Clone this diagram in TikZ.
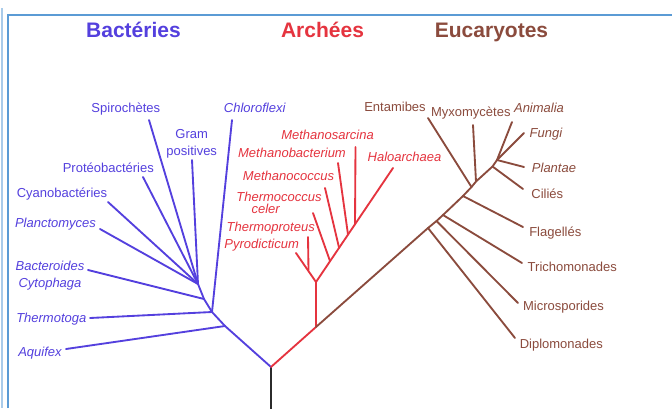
\documentclass[tikz,border=0pt]{standalone}
\usepackage{fontspec}
\setmainfont{Liberation Sans}
\usepackage{xcolor}
\usepackage{tikz}
\definecolor{TVBlue}{HTML}{5440DE}
\definecolor{TVRed}{HTML}{E5343F}
\definecolor{TVBrown}{HTML}{8B4B3D}
\definecolor{TVTrunk}{HTML}{2B2B2B}
\definecolor{TVFrame}{HTML}{5B9BD5}
\definecolor{TVFrameLight}{HTML}{A9CBEA}
\tikzset{
  branch/.style={line width=1.85pt,line cap=round,line join=round},
  leaf/.style={font=\fontsize{13}{17}\selectfont,inner sep=0pt,align=center},
  leafit/.style={leaf,font=\fontsize{13}{17}\selectfont\itshape},
  domainlbl/.style={font=\fontsize{21}{24}\selectfont\bfseries,inner sep=0pt}
}

\begin{document}
\begin{tikzpicture}[x=1pt,y=-1pt]
\path[use as bounding box] (0,0) rectangle (672,408);
\fill[white] (0,0) rectangle (672,408);
\draw[TVFrameLight,line width=2pt] (1.5,8) -- (1.5,408);
\draw[TVFrame,line width=2pt] (8,408) -- (8,15) -- (672,15);

\node[domainlbl,TVBlue,anchor=base] (tBact) at (133.5,37) {Bactéries};
\node[domainlbl,TVRed,anchor=base] (tArch) at (322.5,37) {Archées};
\node[domainlbl,TVBrown,anchor=base] (tEuca) at (491.5,37) {Eucaryotes};

\coordinate (root) at (271,367);
\coordinate (base) at (271,410);
\draw[TVTrunk,branch] (root) -- (base);

\coordinate (bA) at (225,326);
\coordinate (bT) at (212,312);
\coordinate (bB) at (204,299);
\coordinate (bC) at (198,284);
\coordinate (aquifexE) at (66,349);
\coordinate (thermotogaE) at (90,318);
\coordinate (bacteroidesE) at (88,270);
\coordinate (planctoE) at (100,229);
\coordinate (cyanoE) at (108,202);
\coordinate (proteoE) at (143,177);
\coordinate (spiroE) at (149,120);
\coordinate (gramE) at (192,160);
\coordinate (chloroE) at (232,120);
\draw[TVBlue,branch] (root) -- (bA) -- (bT) -- (bB) -- (bC);
\draw[TVBlue,branch] (bA) -- (aquifexE);
\draw[TVBlue,branch] (bT) -- (thermotogaE);
\draw[TVBlue,branch] (bB) -- (bacteroidesE);
\draw[TVBlue,branch] (bC) -- (planctoE);
\draw[TVBlue,branch] (bC) -- (cyanoE);
\draw[TVBlue,branch] (bC) -- (proteoE);
\draw[TVBlue,branch] (bC) -- (spiroE);
\draw[TVBlue,branch] (bC) -- (gramE);
\draw[TVBlue,branch] (bT) -- (chloroE);
\node[leafit,TVBlue,anchor=base] (aquifex) at (40,356) {Aquifex};
\node[leafit,TVBlue,anchor=base] (thermotoga) at (51.3,322.2) {Thermotoga};
\node[leafit,TVBlue] (bacteroides) at (50,275.8) {Bacteroides\\Cytophaga};
\node[leafit,TVBlue,anchor=base] (planctomyces) at (55.5,227.5) {Planctomyces};
\node[leaf,TVBlue,anchor=base] (cyano) at (62,197.2) {Cyanobactéries};
\node[leaf,TVBlue,anchor=base] (proteo) at (108.3,172.8) {Protéobactéries};
\node[leaf,TVBlue,anchor=base] (spiro) at (125.8,112.8) {Spirochètes};
\node[leaf,TVBlue] (gram) at (191.7,143.7) {Gram\\positives};
\node[leafit,TVBlue,anchor=base] (chloroflexi) at (254.7,112.5) {Chloroflexi};

\coordinate (aN) at (316,327);
\coordinate (aP) at (316,282);
\coordinate (aTp) at (308.5,270);
\coordinate (aTc) at (330,261);
\coordinate (aMc) at (339,247.5);
\coordinate (aMb) at (348,234.5);
\coordinate (aMs) at (355,224.5);
\coordinate (pyroE) at (296,253);
\coordinate (thermoprE) at (308,237);
\coordinate (thermocE) at (313,213);
\coordinate (methcocE) at (325,188);
\coordinate (methbacE) at (338,163);
\coordinate (methsarE) at (355.5,147);
\coordinate (haloE) at (393,168);
\draw[TVRed,branch] (root) -- (aN) -- (aP);
\draw[TVRed,branch] (aP) -- (pyroE);
\draw[TVRed,branch] (aTp) -- (thermoprE);
\draw[TVRed,branch] (aP) -- (haloE);
\draw[TVRed,branch] (aTc) -- (thermocE);
\draw[TVRed,branch] (aMc) -- (methcocE);
\draw[TVRed,branch] (aMb) -- (methbacE);
\draw[TVRed,branch] (aMs) -- (methsarE);
\node[leafit,TVRed,anchor=base] (methanosarcina) at (327.5,139.5) {Methanosarcina};
\node[leafit,TVRed,anchor=base] (methanobact) at (292,157.8) {Methanobacterium};
\node[leafit,TVRed,anchor=base] (haloarchaea) at (404.5,161.2) {Haloarchaea};
\node[leafit,TVRed,anchor=base] (methanococcus) at (288.5,180.5) {Methanococcus};
\node[leafit,TVRed,anchor=base] (thermococcus) at (279,201.8) {Thermococcus};
\node[leafit,TVRed,anchor=base] (celer) at (265.7,213.8) {celer};
\node[leafit,TVRed,anchor=base] (thermoproteus) at (270.7,231.8) {Thermoproteus};
\node[leafit,TVRed,anchor=base] (pyrodicticum) at (261.7,248.5) {Pyrodicticum};

\coordinate (eD) at (428,228);
\coordinate (eM) at (436.5,221);
\coordinate (eTr) at (443,215);
\coordinate (eF) at (463,196);
\coordinate (eE) at (471.5,187);
\coordinate (eMy) at (476,181.5);
\coordinate (eCi) at (492.5,166.5);
\coordinate (eTop) at (497,160);
\coordinate (diploE) at (515,338);
\coordinate (microE) at (518,303);
\coordinate (trichoE) at (522,263);
\coordinate (flagE) at (523,227);
\coordinate (entE) at (428,118);
\coordinate (myxoE) at (473,125);
\coordinate (ciliE) at (523,189);
\coordinate (plantE) at (524,167);
\coordinate (fungiE) at (524,133);
\coordinate (animE) at (512,122);
\draw[TVBrown,branch] (aN) -- (eD) -- (eM) -- (eTr) -- (eF) -- (eE) -- (eMy) -- (eCi) -- (eTop);
\draw[TVBrown,branch] (eD) -- (diploE);
\draw[TVBrown,branch] (eM) -- (microE);
\draw[TVBrown,branch] (eTr) -- (trichoE);
\draw[TVBrown,branch] (eF) -- (flagE);
\draw[TVBrown,branch] (eE) -- (entE);
\draw[TVBrown,branch] (eMy) -- (myxoE);
\draw[TVBrown,branch] (eCi) -- (ciliE);
\draw[TVBrown,branch] (eTop) -- (plantE);
\draw[TVBrown,branch] (eTop) -- (fungiE);
\draw[TVBrown,branch] (eTop) -- (animE);
\node[leaf,TVBrown,anchor=base] (entamibes) at (395,111.8) {Entamibes};
\node[leaf,TVBrown,anchor=base] (myxo) at (470.8,116.2) {Myxomycètes};
\node[leafit,TVBrown,anchor=base] (animalia) at (539,112.8) {Animalia};
\node[leafit,TVBrown,anchor=base] (fungi) at (546,137.2) {Fungi};
\node[leafit,TVBrown,anchor=base] (plantae) at (554,172.8) {Plantae};
\node[leaf,TVBrown,anchor=base] (cilies) at (547.3,198.5) {Ciliés};
\node[leaf,TVBrown,anchor=base] (flagelles) at (555.3,236.2) {Flagellés};
\node[leaf,TVBrown,anchor=base] (tricho) at (572.3,271.8) {Trichomonades};
\node[leaf,TVBrown,anchor=base] (microspo) at (563.5,310.5) {Microsporides};
\node[leaf,TVBrown,anchor=base] (diplomo) at (561.3,348.8) {Diplomonades};
\end{tikzpicture}
\end{document}
